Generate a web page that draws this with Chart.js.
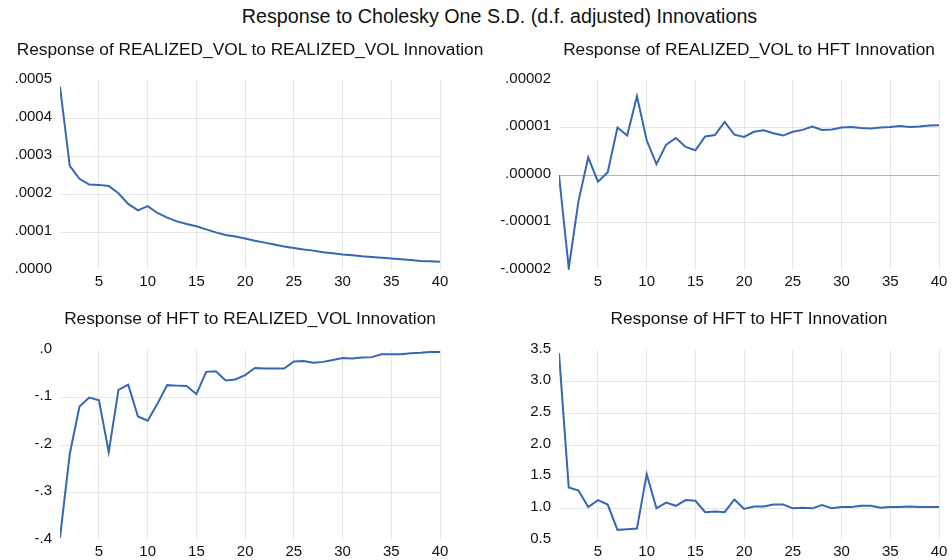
<!DOCTYPE html>
<html>
<head>
<meta charset="utf-8">
<title>Response to Cholesky One S.D. Innovations</title>
<script src="https://cdn.jsdelivr.net/npm/chart.js@4.4.1/dist/chart.umd.min.js"></script>
<style>
  html, body { margin: 0; padding: 0; background: #fff; }
  #wrap { position: relative; width: 952px; height: 560px; overflow: hidden;
          font-family: "Liberation Sans", Arial, sans-serif; color: #111; }
  #main-title { position: absolute; left: 0; top: 4px; width: 999px; text-align: center;
                font-size: 19.7px; line-height: 24px; white-space: nowrap; }
  .sub { position: absolute; text-align: center; font-size: 17.3px; line-height: 22px;
         white-space: nowrap; }
  canvas { position: absolute; }
</style>
</head>
<body>
<div id="wrap">
  <div id="main-title">Response to Cholesky One S.D. (d.f. adjusted) Innovations</div>
  <canvas id="c1" width="476" height="270" style="left:0;top:30px;"></canvas>
  <canvas id="c2" width="476" height="270" style="left:476px;top:30px;"></canvas>
  <canvas id="c3" width="476" height="260" style="left:0;top:300px;"></canvas>
  <canvas id="c4" width="476" height="260" style="left:476px;top:300px;"></canvas>
  <div class="sub" style="left:0;top:38px;width:500px;">Response of REALIZED_VOL to REALIZED_VOL Innovation</div>
  <div class="sub" style="left:549px;top:38px;width:400px;">Response of REALIZED_VOL to HFT Innovation</div>
  <div class="sub" style="left:0;top:307px;width:500px;">Response of HFT to REALIZED_VOL Innovation</div>
  <div class="sub" style="left:549px;top:307px;width:400px;">Response of HFT to HFT Innovation</div>
</div>
<script>
// Impulse response periods (horizon 1..40)
const periods = [1, 2, 3, 4, 5, 6, 7, 8, 9, 10, 11, 12, 13, 14, 15, 16, 17, 18, 19, 20,
  21, 22, 23, 24, 25, 26, 27, 28, 29, 30, 31, 32, 33, 34, 35, 36, 37, 38, 39, 40];
const xTicks = [5, 10, 15, 20, 25, 30, 35, 40];

// Response of REALIZED_VOL to REALIZED_VOL
const rvToRv = [0.000482, 0.000274, 0.000240, 0.000225, 0.000224, 0.000221, 0.000202, 0.000174,
  0.000157, 0.000168, 0.000150, 0.000138, 0.000128, 0.000121, 0.000115, 0.000107, 0.000099,
  0.000092, 0.000088, 0.000083, 0.000077, 0.000072, 0.000067, 0.000062, 0.000058, 0.000054,
  0.000051, 0.000047, 0.000044, 0.000041, 0.000039, 0.000036, 0.000034, 0.000032, 0.000030,
  0.000028, 0.000026, 0.000024, 0.000023, 0.000022];
// Response of REALIZED_VOL to HFT
const rvToHft = [0, -1.96e-5, -0.55e-5, 0.37e-5, -0.14e-5, 0.06e-5, 1.00e-5, 0.83e-5, 1.66e-5,
  0.73e-5, 0.23e-5, 0.64e-5, 0.78e-5, 0.59e-5, 0.52e-5, 0.81e-5, 0.84e-5, 1.12e-5, 0.85e-5,
  0.80e-5, 0.91e-5, 0.94e-5, 0.88e-5, 0.83e-5, 0.91e-5, 0.95e-5, 1.02e-5, 0.95e-5, 0.96e-5,
  1.00e-5, 1.01e-5, 0.99e-5, 0.98e-5, 1.00e-5, 1.01e-5, 1.03e-5, 1.01e-5, 1.02e-5, 1.04e-5, 1.05e-5];
// Response of HFT to REALIZED_VOL
const hftToRv = [-0.395, -0.219, -0.119, -0.100, -0.106, -0.215, -0.084, -0.073, -0.140, -0.149,
  -0.113, -0.074, -0.075, -0.076, -0.093, -0.046, -0.045, -0.064, -0.062, -0.053, -0.038, -0.039,
  -0.039, -0.039, -0.024, -0.023, -0.027, -0.025, -0.021, -0.017, -0.018, -0.016, -0.015, -0.009,
  -0.009, -0.009, -0.007, -0.006, -0.004, -0.004];
// Response of HFT to HFT
const hftToHft = [3.45, 1.33, 1.28, 1.02, 1.13, 1.06, 0.66, 0.67, 0.68, 1.54, 1.00, 1.09, 1.04,
  1.13, 1.12, 0.94, 0.95, 0.94, 1.14, 0.99, 1.03, 1.03, 1.06, 1.06, 1.00, 1.01, 1.00, 1.05, 1.00,
  1.02, 1.02, 1.04, 1.04, 1.01, 1.02, 1.02, 1.03, 1.02, 1.02, 1.02];

// y-axis tick values for each panel
const yTicksRvRv = [0, 0.0001, 0.0002, 0.0003, 0.0004, 0.0005];
const yTicksRvHft = [-0.00002, -0.00001, 0, 0.00001, 0.00002];
const yTicksHftRv = [-0.4, -0.3, -0.2, -0.1, 0];
const yTicksHftHft = [0.5, 1.0, 1.5, 2.0, 2.5, 3.0, 3.5];

const LINE_COLOR = '#3767b3';
const GRID_COLOR = '#e6e6e6';
const ZERO_COLOR = '#b4b4b4';
const TEXT_COLOR = '#111';
const FONT = '"Liberation Sans", Arial, sans-serif';

// EViews style labels: drop the leading zero (".0005", "-.1")
function stripZero(digits) {
  return function(v) {
    const s = (Math.abs(v) < 1e-12 ? 0 : v).toFixed(digits);
    return s.replace(/^(-?)0\./, '$1.');
  };
}

function makePanel(id, opts) {
  const yMin = opts.yTicks[0];
  const yMax = opts.yTicks[opts.yTicks.length - 1];
  new Chart(document.getElementById(id), {
    type: 'line',
    data: {
      datasets: [{
        data: periods.map((p, i) => ({ x: p, y: opts.values[i] })),
        borderColor: LINE_COLOR,
        borderWidth: 2,
        pointRadius: 0,
        tension: 0,
        fill: false
      }]
    },
    options: {
      responsive: false,
      animation: false,
      devicePixelRatio: 1,
      layout: { padding: { left: 0, right: opts.padRight, top: 50, bottom: 0 } },
      plugins: {
        legend: { display: false },
        tooltip: { enabled: false },
        title: { display: false }
      },
      scales: {
        x: {
          type: 'linear',
          min: 1,
          max: 40,
          afterBuildTicks: (s) => { s.ticks = xTicks.map(v => ({ value: v })); },
          afterFit: (s) => { s.height = opts.xHeight; },
          border: { display: false },
          grid: { color: GRID_COLOR, lineWidth: 1, drawTicks: false },
          ticks: {
            color: TEXT_COLOR,
            font: { family: FONT, size: 15 },
            padding: 3,
            maxRotation: 0,
            autoSkip: false
          }
        },
        y: {
          min: yMin,
          max: yMax,
          afterBuildTicks: (s) => { s.ticks = opts.yTicks.map(v => ({ value: v })); },
          afterFit: (s) => { s.width = opts.yWidth; },
          border: { display: false },
          grid: {
            drawTicks: false,
            lineWidth: 1,
            color: (ctx) => {
              const v = ctx.tick ? ctx.tick.value : null;
              if (v === yMin || v === yMax) return 'rgba(0,0,0,0)';
              if (v === 0) return ZERO_COLOR;
              return GRID_COLOR;
            }
          },
          ticks: {
            color: TEXT_COLOR,
            font: { family: FONT, size: 15 },
            padding: 8,
            labelOffset: -1.5,
            autoSkip: false,
            callback: opts.format
          }
        }
      }
    }
  });
}

makePanel('c1', { values: rvToRv, yTicks: yTicksRvRv, format: stripZero(4),
  yWidth: 60, padRight: 36, xHeight: 30 });
makePanel('c2', { values: rvToHft, yTicks: yTicksRvHft, format: stripZero(5),
  yWidth: 83, padRight: 13, xHeight: 30 });
makePanel('c3', { values: hftToRv, yTicks: yTicksHftRv, format: stripZero(1),
  yWidth: 60, padRight: 36, xHeight: 20 });
makePanel('c4', { values: hftToHft, yTicks: yTicksHftHft, format: (v) => v.toFixed(1),
  yWidth: 83, padRight: 13, xHeight: 20 });
</script>
</body>
</html>
